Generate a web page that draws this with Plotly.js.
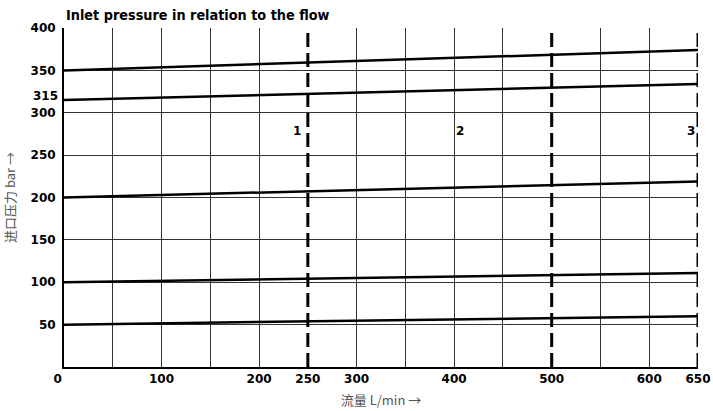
<!DOCTYPE html>
<html><head><meta charset="utf-8">
<script src="https://cdn.plot.ly/plotly-3.0.1.min.js"></script>
<style>body{margin:0;background:#fff}#chart{width:713px;height:411px}</style>
</head><body><div id="chart"></div>
<script>
// Flow (L/min) at the ends of each pressure curve
const flow = [0, 650];
// Inlet pressure curves (bar) at flow 0 and 650
const curve350 = [350, 374];
const curve315 = [315, 334];
const curve200 = [200, 219];
const curve100 = [100, 111];
const curve50 = [50, 60];
// Dashed range boundaries (L/min)
const boundaries = [250, 500, 650];
const rangeLabels = ['1', '2', '3'];
const rangeLabelX = [239, 406, 643];
const rangeLabelY = 279;
// Axis ticks
const xTickVals = [0, 100, 200, 250, 300, 400, 500, 600, 650];
const xTickText = ['0\u00a0\u00a0\u00a0', '100', '200', '250', '300', '400', '500', '600', '650'];
const xGridVals = [50, 100, 150, 200, 300, 350, 400, 450, 550, 600];
const yTickVals = [50, 100, 150, 200, 250, 300, 350, 400];
const yExtraTick = [315];

const curves = [curve350, curve315, curve200, curve100, curve50];
const traces = curves.map(c => ({
  x: flow, y: c, mode: 'lines', type: 'scatter',
  line: {color: '#000', width: 2.5}, hoverinfo: 'skip', showlegend: false
}));
boundaries.forEach(b => traces.push({
  x: [b, b], y: [0, 400], mode: 'lines', type: 'scatter',
  line: {color: '#000', width: 3, dash: '14px,6px'}, hoverinfo: 'skip', showlegend: false
}));
traces.push({x: [], y: [], xaxis: 'x2', yaxis: 'y2', type: 'scatter', mode: 'none', showlegend: false, hoverinfo: 'skip'});

const tickFont = {family: 'DejaVu Sans, sans-serif', size: 12, color: '#000', weight: 'bold'};
const axTitleFont = {family: 'Liberation Sans Narrow, Noto Sans CJK SC, sans-serif', size: 13, color: '#555'};
const layout = {
  width: 713, height: 411,
  margin: {l: 64, r: 15, t: 28, b: 44},
  paper_bgcolor: '#fff', plot_bgcolor: '#fff',
  title: {text: '<b>Inlet pressure in relation to the flow</b>', x: 0, xref: 'paper', xanchor: 'left', y: 0.963, yanchor: 'middle', yref: 'container',
    font: {family: 'DejaVu Sans Condensed, sans-serif', size: 14.3, color: '#000'}, pad: {l: 2}},
  xaxis: {range: [0, 650], tickvals: xTickVals, ticktext: xTickText, showgrid: false, zeroline: false,
    showline: true, linecolor: '#000', linewidth: 2, ticks: '', tickfont: tickFont,
    title: {text: '流量 L/min →', font: axTitleFont, standoff: 10}},
  yaxis: {range: [0, 400], tickvals: yTickVals, showgrid: true, gridcolor: '#333', gridwidth: 1, zeroline: false,
    showline: true, linecolor: '#000', linewidth: 2, ticks: '', tickfont: tickFont, ticklabelstandoff: 4,
    title: {text: '进口压力 bar →', font: axTitleFont, standoff: 12}},
  xaxis2: {range: [0, 650], overlaying: 'x', tickvals: xGridVals, showticklabels: false, showgrid: true, gridcolor: '#333', gridwidth: 1, zeroline: false, showline: false, ticks: ''},
  yaxis2: {range: [0, 400], overlaying: 'y', side: 'left', tickvals: yExtraTick, showgrid: false, zeroline: false, showline: false, ticks: '', tickfont: tickFont, ticklabelstandoff: 5, ticklabelshift: -4},
  annotations: rangeLabels.map((t, i) => ({x: rangeLabelX[i], y: rangeLabelY, xref: 'x', yref: 'y', text: '<b>' + t + '</b>', showarrow: false,
    font: {family: 'DejaVu Sans, sans-serif', size: 12, color: '#000'}}))
};
Plotly.newPlot('chart', traces, layout, {staticPlot: true, displayModeBar: false});
</script></body></html>
